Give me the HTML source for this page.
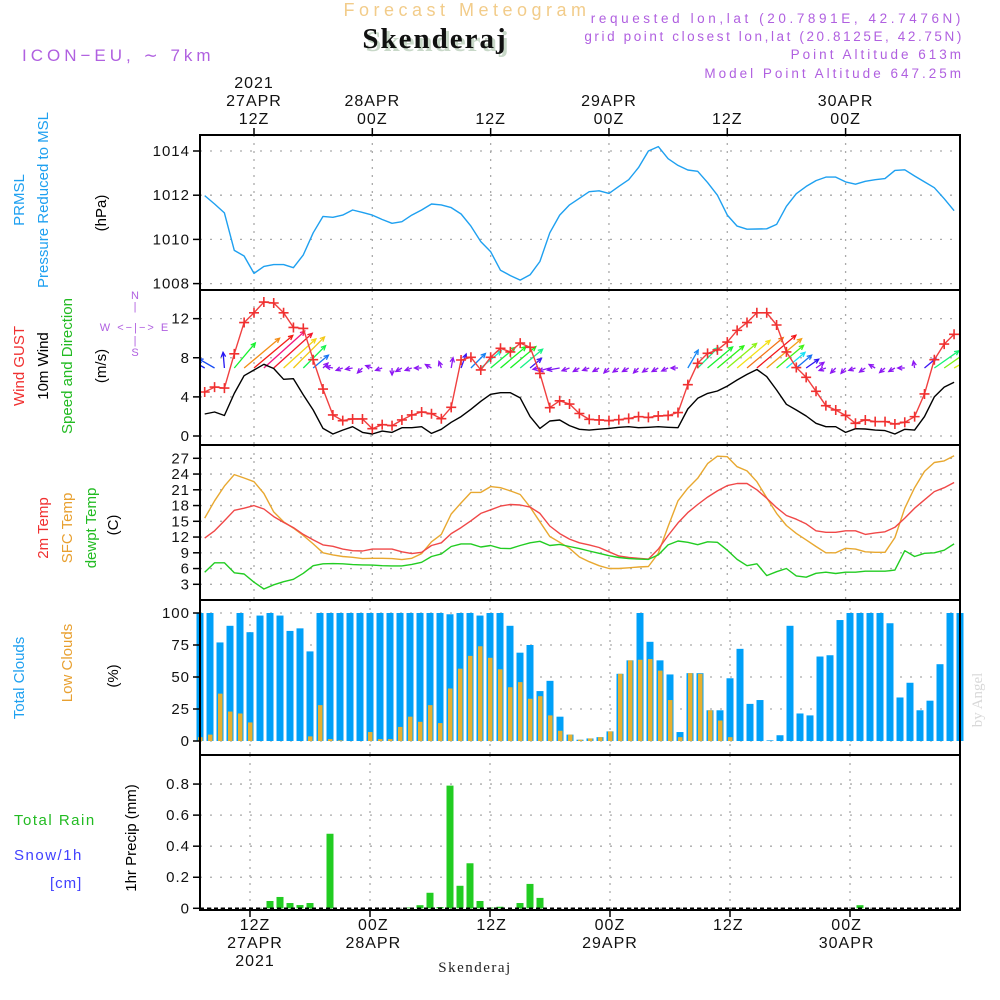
<!DOCTYPE html>
<html><head><meta charset="utf-8"><style>
html,body{margin:0;padding:0;background:#fff;}
svg{display:block;font-family:"Liberation Sans",sans-serif;}
</style></head><body>
<svg id="chart" width="1000" height="1000" viewBox="0 0 1000 1000" xmlns="http://www.w3.org/2000/svg">
<defs><clipPath id="windclip"><rect x="200" y="290" width="760" height="155"/></clipPath></defs>
<rect width="1000" height="1000" fill="#fff"/>
<g id="header">
<text x="467" y="16" text-anchor="middle" font-size="18" letter-spacing="4.5" fill="#f2cc8a">Forecast Meteogram</text>
<text x="438" y="51" text-anchor="middle" font-family="Liberation Serif,serif" font-weight="bold" font-size="29" letter-spacing="2" fill="#c8d8c8">Skenderaj</text>
<text x="435" y="48" text-anchor="middle" font-family="Liberation Serif,serif" font-weight="bold" font-size="29" letter-spacing="2" fill="#111">Skenderaj</text>
<text x="22" y="61" font-size="17" letter-spacing="4" fill="#b060e0">ICON−EU, ∼ 7km</text>
<text x="964" y="23" text-anchor="end" font-size="13.5" letter-spacing="3.6" fill="#b060e0">requested lon,lat (20.7891E, 42.7476N)</text>
<text x="964" y="41" text-anchor="end" font-size="13.5" letter-spacing="2.6" fill="#b060e0">grid point closest lon,lat (20.8125E, 42.75N)</text>
<text x="964" y="59" text-anchor="end" font-size="13.5" letter-spacing="3" fill="#b060e0">Point Altitude 613m</text>
<text x="964" y="78" text-anchor="end" font-size="13.5" letter-spacing="3" fill="#b060e0">Model Point Altitude 647.25m</text>
<text transform="translate(982,700) rotate(-90)" text-anchor="middle" font-family="Liberation Serif,serif" font-size="15" fill="#d8d8d8">by Angel</text>
</g>
<g id="labels" font-size="15">
<text transform="translate(24,200) rotate(-90)" text-anchor="middle" fill="#1ea0f0">PRMSL</text>
<text transform="translate(48,200) rotate(-90)" text-anchor="middle" fill="#1ea0f0">Pressure Reduced to MSL</text>
<text transform="translate(106,213) rotate(-90)" text-anchor="middle" fill="#000">(hPa)</text>
<text transform="translate(24,366) rotate(-90)" text-anchor="middle" fill="#f03030">Wind GUST</text>
<text transform="translate(48,366) rotate(-90)" text-anchor="middle" fill="#000">10m Wind</text>
<text transform="translate(72,366) rotate(-90)" text-anchor="middle" fill="#22bb22">Speed and Direction</text>
<text transform="translate(106,366) rotate(-90)" text-anchor="middle" fill="#000">(m/s)</text>
<g fill="#b060e0" font-size="11">
<text x="135" y="299" text-anchor="middle">N</text><text x="135" y="310" text-anchor="middle">|</text>
<text x="135" y="331" text-anchor="middle" letter-spacing="2">W &lt;−|−&gt; E</text>
<text x="135" y="344" text-anchor="middle">|</text><text x="135" y="356" text-anchor="middle">S</text></g>
<text transform="translate(48,528) rotate(-90)" text-anchor="middle" fill="#f03030">2m Temp</text>
<text transform="translate(72,528) rotate(-90)" text-anchor="middle" fill="#e8a030">SFC Temp</text>
<text transform="translate(96,528) rotate(-90)" text-anchor="middle" fill="#22bb22">dewpt Temp</text>
<text transform="translate(118,525) rotate(-90)" text-anchor="middle" fill="#000">(C)</text>
<text transform="translate(24,678) rotate(-90)" text-anchor="middle" fill="#1ea0f0">Total Clouds</text>
<text transform="translate(72,663) rotate(-90)" text-anchor="middle" fill="#e8a030">Low Clouds</text>
<text transform="translate(118,676) rotate(-90)" text-anchor="middle" fill="#000">(%)</text>
<text x="14" y="825" fill="#22bb22" letter-spacing="1.5">Total  Rain</text>
<text x="14" y="860" fill="#4040ff" letter-spacing="1.5">Snow/1h</text>
<text x="50" y="888" fill="#4040ff" letter-spacing="1">[cm]</text>
<text transform="translate(136,838) rotate(-90)" text-anchor="middle" fill="#000">1hr Precip (mm)</text>
<text x="475" y="972" text-anchor="middle" font-family="Liberation Serif,serif" font-size="15" letter-spacing="1.5" fill="#222">Skenderaj</text>
</g>
<g id="grid"></g>
<g id="marks"></g>
<g id="frames"></g>
<g id="axes"></g>
</svg>
<script>
const hours = [];
for (let h = 7; h <= 83; h++) hours.push(h);
const pressure = [1011.98,1011.6,1011.2,1009.5,1009.25,1008.46,1008.78,1008.86,1008.86,1008.72,1009.3,1010.3,1011.04,1011.0,1011.1,1011.33,1011.22,1011.1,1010.9,1010.73,1010.8,1011.1,1011.33,1011.6,1011.56,1011.44,1011.15,1010.6,1009.9,1009.45,1008.6,1008.36,1008.16,1008.4,1009.0,1010.3,1011.1,1011.56,1011.86,1012.16,1012.2,1012.08,1012.4,1012.7,1013.25,1014.0,1014.2,1013.65,1013.35,1013.14,1013.08,1012.57,1012.0,1011.1,1010.6,1010.46,1010.47,1010.48,1010.68,1011.5,1012.07,1012.4,1012.66,1012.82,1012.82,1012.6,1012.5,1012.63,1012.7,1012.75,1013.12,1013.15,1012.87,1012.6,1012.34,1011.84,1011.3];
const gust = [4.5,5.0,4.9,8.4,11.6,12.6,13.7,13.6,12.6,11.1,11.0,7.8,4.8,2.15,1.57,1.74,1.74,0.75,1.16,1.06,1.64,2.15,2.45,2.28,1.77,2.93,7.77,8.05,6.75,8.05,8.97,8.6,9.5,9.07,6.4,2.9,3.6,3.27,2.3,1.7,1.64,1.57,1.67,1.8,1.98,1.9,2.05,2.1,2.4,5.25,7.43,8.45,8.8,9.6,10.8,11.6,12.6,12.6,11.35,8.6,7.0,6.0,4.57,3.1,2.66,2.1,1.3,1.64,1.47,1.47,1.23,1.4,1.98,4.3,7.8,9.4,10.4];
const wind = [2.25,2.45,2.1,4.36,6.17,6.75,7.33,6.9,5.8,5.86,4.2,2.66,0.78,0.2,0.6,0.95,0.37,0.2,0.5,0.37,0.85,0.85,0.95,0.27,0.68,1.4,1.98,2.73,3.55,4.26,4.43,4.43,3.9,1.98,0.78,1.53,1.64,1.06,0.68,0.6,0.7,0.78,0.89,0.95,0.85,0.89,0.95,0.89,0.85,2.76,3.85,4.36,4.6,5.1,5.73,6.3,6.8,6.07,4.7,3.24,2.66,2.05,1.3,0.95,0.95,0.37,0.75,0.72,0.6,0.55,0.2,0.68,0.6,1.98,4.0,5.0,5.5];
const windDir = [150,150,95,50,40,40,42,42,42,45,45,40,45,170,200,190,225,160,200,270,210,200,180,150,110,80,70,45,40,40,40,40,40,40,190,195,190,200,210,200,210,225,215,210,225,215,210,205,180,60,45,40,40,40,40,40,40,40,40,40,40,35,35,200,225,230,200,215,150,220,210,180,100,40,35,35,30];
const temp2m = [11.8,13.2,15.1,17.1,17.5,18.0,17.35,15.9,14.8,13.8,12.5,11.45,10.5,10.24,9.7,9.4,9.35,9.7,9.7,9.7,9.2,8.85,9.1,10.4,10.9,12.65,13.8,15.1,16.5,17.2,17.9,18.2,18.1,17.7,16.5,14.1,12.65,11.6,10.9,10.5,10.0,9.2,8.4,8.1,7.95,7.8,9.7,12.3,14.7,16.65,18.2,19.6,20.8,21.8,22.2,22.2,21.0,19.4,17.6,16.1,15.4,14.5,13.2,12.9,12.9,13.2,13.2,12.5,12.8,13.0,13.85,15.6,17.5,19.1,20.65,21.4,22.4];
const tempSfc = [15.6,18.9,21.7,23.9,23.25,22.55,20.3,16.8,14.9,13.7,12.3,10.7,9.0,8.6,8.3,8.15,7.9,7.95,7.95,7.9,7.7,7.95,8.85,11.1,12.5,16.4,18.5,20.5,20.5,21.6,21.4,20.8,20.1,17.7,14.9,12.1,11.0,9.85,8.2,7.3,6.55,6.0,6.0,6.15,6.3,6.4,8.9,14.0,18.9,21.3,23.2,26.0,27.4,27.3,25.4,24.6,22.55,19.5,16.5,14.2,12.7,11.45,10.2,9.0,9.0,9.85,9.7,9.2,9.1,9.1,11.9,17.5,21.4,24.5,26.2,26.5,27.5];
const dewpt = [5.3,7.1,7.1,5.2,4.97,3.4,2.1,2.9,3.5,3.95,5.1,6.55,6.9,6.95,6.9,6.75,6.7,6.65,6.55,6.5,6.5,6.8,7.2,8.3,8.8,10.2,10.7,10.7,10.1,10.4,9.85,9.8,10.4,10.9,11.2,10.4,10.6,10.2,9.8,9.35,8.9,8.45,8.1,7.9,7.8,7.75,8.6,10.5,11.25,11.0,10.55,11.1,11.0,9.5,7.75,6.55,6.9,4.65,5.4,6.0,4.6,4.35,5.1,5.3,5.05,5.3,5.3,5.5,5.5,5.5,5.7,9.4,8.3,8.9,9.0,9.5,10.7];
const totalClouds = [100,100,77,90,100,85,98,100,98,86,88,70,100,100,100,100,100,100,100,100,100,100,100,100,100,99,100,100,98,100,100,90,69,75,39,47,19,5,1,2,3,7.5,52.5,63,100,77.5,63,52,7,53,53,24,24,49,72,29,32,0.5,4.5,90,21.5,20,66,67,94.5,100,100,100,100,92,34,45.5,24,31.5,60,100,100];
const lowClouds = [3,5,37,23,21.5,14.5,0,0,0,0,0,3.6,28,1.5,0.5,0,0,7,1.5,1.5,11,19,15,28,14,41,56.5,66.5,74,65,56,42,46,33,35,20,8,5,1,2,3,7.5,52.5,63,63.5,64,55,32,3,53,52.5,24,16,3,0,0,0,0,0,0,0,0,0,0,0,0,0,0,0,0,0,0,0,0,0,0,0];
const precip = [0,0,0,0,0,0,0,0.047,0.073,0.034,0.021,0.034,0,0.48,0,0,0,0,0,0,0,0.005,0.02,0.1,0.008,0.79,0.145,0.29,0.047,0.005,0.01,0,0.034,0.157,0.067,0,0,0,0,0,0,0,0,0,0,0,0,0,0,0,0,0,0,0,0,0,0,0,0,0,0,0,0,0,0,0,0.02,0,0,0,0,0,0,0,0,0,0];
const pTicks = [1008,1010,1012,1014];
const wTicks = [0,4,8,12];
const tTicks = [3,6,9,12,15,18,21,24,27];
const cTicks = [0,25,50,75,100];
const rTicks = ['0','0.2','0.4','0.6','0.8'];
const timeTicks = [12,24,36,48,60,72];
const topLabels = [['2021','27APR','12Z'],['28APR','00Z'],['12Z'],['29APR','00Z'],['12Z'],['30APR','00Z']];
const botLabels = [['12Z','27APR','2021'],['00Z','28APR'],['12Z'],['00Z','29APR'],['12Z'],['00Z','30APR']];

const NS='http://www.w3.org/2000/svg';
function mk(parent, tag, attrs){const e=document.createElementNS(NS,tag);for(const k in attrs)e.setAttribute(k,attrs[k]);parent.appendChild(e);return e;}
const xU=t=>254+(t-12)*9.86;
const xL=t=>250+(t-12)*10;
const yP=p=>151+(1014-p)*22.1;
const yW=v=>436-v*9.78;
const yT=T=>458.3+(27-T)*5.25;
const yC=c=>741-c*1.28;
const yR=r=>908.3-r*155.3;
const L=200,R=960;
const panels=[[135,290],[290,445],[445,600],[600,755],[755,910]];
const grid=document.getElementById('grid'),marks=document.getElementById('marks'),frames=document.getElementById('frames'),axes=document.getElementById('axes');

function hgrid(ticks,yf,name){ticks.forEach(v=>{const y=yf(parseFloat(v));
 const l=mk(grid,'line',{x1:L,x2:R,y1:y,y2:y,stroke:'#aaa','stroke-width':1.3,'stroke-dasharray':'2 8'});
 
 
 mk(axes,'line',{x1:L-7,x2:L,y1:y,y2:y,stroke:'#000','stroke-width':1.5});
 const t=mk(axes,'text',{x:L-10,y:y+5,'text-anchor':'end','font-size':15,'letter-spacing':1,fill:'#111'});t.textContent=v;
 
 });}
hgrid(pTicks,yP,'pressure');
hgrid(wTicks,yW,'wind');
hgrid(tTicks,yT,'temp');
hgrid(cTicks,yC,'clouds');
hgrid(rTicks,yR,'precip');
panels.forEach((p,i)=>{const xf=i<3?xU:xL;timeTicks.forEach(t=>{const x=xf(t);
 const l=mk(grid,'line',{x1:x,x2:x,y1:p[0],y2:p[1],stroke:'#aaa','stroke-width':1.3,'stroke-dasharray':'2 6'});
 
 });});

function line(vals,xf,yf,color,name,w){const pts=vals.map((v,i)=>xf(hours[i]).toFixed(1)+','+yf(v).toFixed(1)).join(' ');
 const e=mk(marks,'polyline',{points:pts,fill:'none',stroke:color,'stroke-width':w||1.4,'stroke-linejoin':'round'});
 
 return e;}
line(pressure,xU,yP,'#1ea0f0','pressure-line');
const windG=mk(marks,'g',{'clip-path':'url(#windclip)'});
windDir.forEach((d,i)=>{const s=wind[i];const x0=xU(hours[i]),y0=368;const len=Math.max(7,s*7.5);
 const a=d*Math.PI/180;const x1=x0+len*Math.cos(a),y1=y0-len*Math.sin(a);
 const hue=s<1.6?272:((270-(s-1.6)*52)%360+360)%360;const col='hsl('+hue+',90%,52%)';
 const g=mk(windG,'g',{stroke:col,'stroke-width':1.3,fill:'none'});
 
 
 mk(g,'line',{x1:x0,y1:y0,x2:x1,y2:y1});
 const h=5,b1=a+Math.PI-0.45,b2=a+Math.PI+0.45;
 mk(g,'polyline',{points:(x1+h*Math.cos(b1))+','+(y1-h*Math.sin(b1))+' '+x1+','+y1+' '+(x1+h*Math.cos(b2))+','+(y1-h*Math.sin(b2))});});
line(wind,xU,yW,'#000','wind-speed-line');
line(gust,xU,yW,'#f04040','gust-line');
gust.forEach((v,i)=>{const x=xU(hours[i]),y=yW(v);
 const e=mk(marks,'path',{d:'M'+(x-5)+','+y+'h10M'+x+','+(y-5)+'v10',stroke:'#f03030','stroke-width':1.6});
 
 });
line(tempSfc,xU,yT,'#e8a830','sfc-temp-line');
line(temp2m,xU,yT,'#f04848','temp-2m-line');
line(dewpt,xU,yT,'#22cc22','dewpt-line');
totalClouds.forEach((v,i)=>{const x=xL(hours[i]);
 const b=mk(marks,'rect',{x:x-3.5,y:yC(v),width:7,height:yC(0)-yC(v),fill:'#00a0f8'});
 
 
 const lv=lowClouds[i];
 const o=mk(marks,'rect',{x:x-2,y:yC(lv),width:4.5,height:yC(0)-yC(lv),fill:'#e8b030'});
 
 });
precip.forEach((v,i)=>{if(v<=0)return;const x=xL(hours[i]);
 const b=mk(marks,'rect',{x:x-3.5,y:yR(v),width:7,height:yR(0)-yR(v),fill:'#22cc22'});
 
 });
mk(marks,'line',{x1:L,x2:R,y1:yR(0),y2:yR(0),stroke:'#000','stroke-width':1.5,'stroke-dasharray':'4 3'});
panels.forEach(p=>{const f=mk(frames,'rect',{x:L,y:p[0],width:R-L,height:p[1]-p[0],fill:'none',stroke:'#000','stroke-width':2});
 
 });
timeTicks.forEach((t,i)=>{const x=xU(t);mk(axes,'line',{x1:x,x2:x,y1:128,y2:135,stroke:'#000','stroke-width':1.5});
 const lab=topLabels[i];lab.forEach((s,j)=>{const e=mk(axes,'text',{x:x,y:128-4-(lab.length-1-j)*18,'text-anchor':'middle','font-size':16,'letter-spacing':1,fill:'#111'});e.textContent=s;
 
 });
 const xb=xL(t);mk(axes,'line',{x1:xb,x2:xb,y1:910,y2:917,stroke:'#000','stroke-width':1.5});
 const bl=botLabels[i];bl.forEach((s,j)=>{const e=mk(axes,'text',{x:x+1,y:930+j*18,'text-anchor':'middle','font-size':16,'letter-spacing':1,fill:'#111'});e.textContent=s;
 
 });});
</script>
</body></html>
